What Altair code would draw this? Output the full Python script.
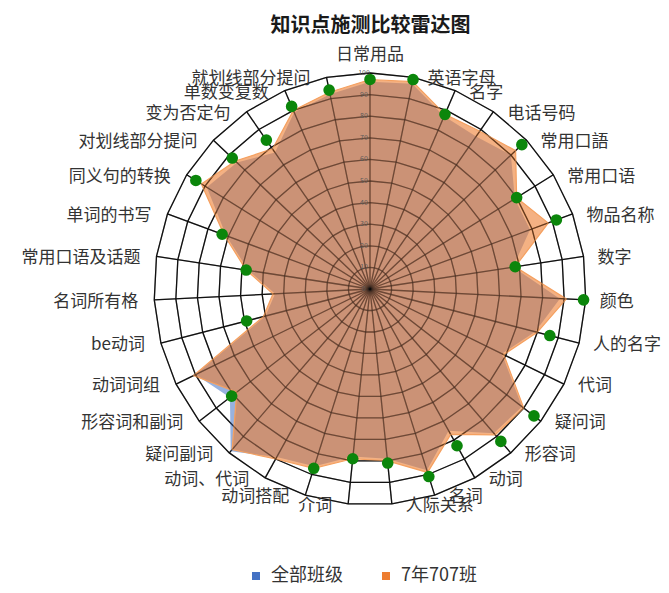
import altair as alt
import pandas as pd

categories = ["日常用品", "英语字母", "名字", "电话号码", "常用口語", "常用口语", "物品名称", "数字",
              "颜色", "人的名字", "代词", "疑问词", "形容词", "动词", "名词", "人际关系", "介词",
              "动词搭配", "动词、代词", "疑问副词", "形容词和副词", "动词词组", "be动词", "名词所有格",
              "常用口语及话题", "单词的书写", "同义句的转换", "对划线部分提问", "变为否定句", "单数变复数",
              "就划线部分提问"]
all_classes = [96, 97, 87, 86, 90, 79, 79, 67, 88, 79, 68, 89, 88, 75, 88, 79, 78,
               86, 89, 99, 82, 90, 50, 44, 57, 71, 89, 85, 77, 89, 92]
class_707 = [97, 98, 88, 89, 93, 80, 88, 68, 91, 80, 69, 90, 89, 77, 89, 80, 79,
             87, 90, 98, 78, 91, 51, 45, 58, 72, 92, 86, 79, 90, 93]
markers = [97, 99, 88, None, 97, 80, 92, 68, 99, 86, None, 96, 93, 83, 91, 81, 79,
           87, None, None, 81, None, 59, None, 58, 73, 95, 88, 84, 92, 94]
series_names = ["全部班级", "7年707班"]
ring_levels = [10, 20, 30, 40, 50, 60, 70, 80, 90, 100]
tick_values = [0, 10, 20, 30, 40, 50, 60, 70, 80, 90, 100]
tick_labels = ["0", "10", "20", "30", "40", "50", "60", "70", "80", "90", "100"]
title_text = "知识点施测比较雷达图"

N = len(categories)
FONT = "Noto Sans CJK SC"
PX_PER_UNIT = 2.16
W, H = 653, 537
CX, CY = 362, 241
x_dom = [-CX / PX_PER_UNIT, (W - CX) / PX_PER_UNIT]
y_dom = [-(H - CY) / PX_PER_UNIT, CY / PX_PER_UNIT]

xs = alt.Scale(domain=x_dom, nice=False, zero=False)
ys = alt.Scale(domain=y_dom, nice=False, zero=False)


def polar(chart, rfield):
    return chart.transform_calculate(
        ang=f"datum.idx * 2 * PI / {N}",
    ).transform_calculate(
        px=f"datum.{rfield} * sin(datum.ang)",
        py=f"datum.{rfield} * cos(datum.ang)",
    )


X = alt.X("px:Q", scale=xs, axis=None)
Y = alt.Y("py:Q", scale=ys, axis=None)

rings_df = pd.DataFrame([{"level": lv, "idx": i} for lv in ring_levels for i in range(N)])
spoke_df = pd.DataFrame({"idx": list(range(N)), "r": [ring_levels[-1]] * N})


def grid(opacity):
    rings = polar(alt.Chart(rings_df), "level").mark_line(
        interpolate="linear-closed", color="#111111", strokeWidth=1.3, strokeOpacity=opacity
    ).encode(x=X, y=Y, detail="level:N", order="idx:Q")
    spokes = polar(alt.Chart(spoke_df), "r").transform_calculate(zero="0").mark_rule(
        color="#111111", strokeWidth=1.3, strokeOpacity=opacity
    ).encode(x=X, y=Y, x2="zero:Q", y2="zero:Q")
    return [rings, spokes]


rows = []
for s, vals in zip(series_names, [all_classes, class_707]):
    for i, v in enumerate(vals):
        rows.append({"series": s, "idx": i, "value": v, "cat": categories[i]})
series_df = pd.DataFrame(rows)

fill_enc = alt.Fill("series:N", scale=alt.Scale(domain=series_names, range=["#4472C4", "#ED7D31"]),
                    legend=alt.Legend(title=None, orient="none", legendX=239, legendY=519,
                                      direction="horizontal", symbolType="square", symbolSize=64,
                                      symbolOpacity=1, symbolStrokeWidth=0,
                                      labelFont=FONT, labelFontSize=18, labelColor="#333333",
                                      columnPadding=34, labelOffset=6))

blue = polar(alt.Chart(series_df).transform_filter(alt.datum.series == series_names[0]), "value").mark_line(
    interpolate="linear-closed", fillOpacity=0.55, strokeOpacity=0
).encode(x=X, y=Y, fill=fill_enc, order="idx:Q")

orange = polar(alt.Chart(series_df).transform_filter(alt.datum.series == series_names[1]), "value").mark_line(
    interpolate="linear-closed", fillOpacity=0.6, stroke="#F5A05F", strokeWidth=1.2
).encode(x=X, y=Y, fill=fill_enc, order="idx:Q")

mk_df = pd.DataFrame({"idx": list(range(N)), "m": markers}).dropna()
green = polar(alt.Chart(mk_df), "m").mark_point(
    filled=True, color="#0B860B", size=135, opacity=1
).encode(x=X, y=Y)

lab_df = pd.DataFrame({"idx": list(range(N)), "cat": categories, "r": [ring_levels[-1]] * N})
lab_base = polar(alt.Chart(lab_df), "r").transform_calculate(s="sin(datum.ang)")
lab_style = dict(font=FONT, fontSize=17, color="#333333")
lab_right = lab_base.transform_filter("datum.s > 0.05").mark_text(
    align="left", baseline="middle", dx=14, dy=2, **lab_style
).encode(x=X, y=Y, text="cat:N")
lab_left = lab_base.transform_filter("datum.s < -0.05").mark_text(
    align="right", baseline="middle", dx=-16, dy=2, **lab_style
).encode(x=X, y=Y, text="cat:N")
lab_top = lab_base.transform_filter("abs(datum.s) <= 0.05").mark_text(
    align="center", baseline="middle", dy=-18, **lab_style
).encode(x=X, y=Y, text="cat:N")

tick_df = pd.DataFrame({"idx": [0] * len(tick_values), "v": tick_values, "t": tick_labels})
ticks = polar(alt.Chart(tick_df), "v").mark_text(
    align="center", baseline="middle", font=FONT, fontSize=7, color="#595959", dx=-6
).encode(x=X, y=Y, text="t:N")

layers = grid(1.0) + [blue, orange] + grid(0.35) + [green, ticks, lab_right, lab_left, lab_top]

chart = alt.layer(*layers).properties(
    width=W, height=H,
    title=alt.TitleParams(title_text, font=FONT, fontSize=20, fontWeight="bold", color="#1a1a1a",
                          anchor="middle", dx=36, offset=10),
    padding={"left": 0, "top": 40, "right": 0, "bottom": 0},
    autosize=alt.AutoSizeParams(type="none"),
).configure_view(stroke=None)

chart.save("out.html", embed_options={"renderer": "svg", "actions": False})
